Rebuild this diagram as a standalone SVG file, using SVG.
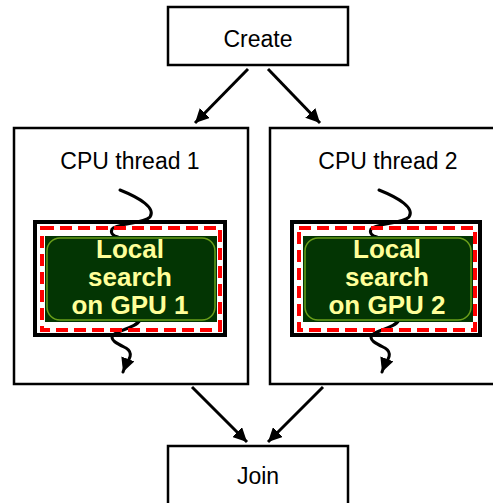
<svg xmlns="http://www.w3.org/2000/svg" width="493" height="503" viewBox="0 0 493 503">
<defs>
<style>
.box{fill:#fff;stroke:#000;stroke-width:2.5}
.lbl{font-family:"Liberation Sans",Arial,sans-serif;font-size:23px;fill:#000;text-anchor:middle}
.gpu-outer{fill:#fff;stroke:#000;stroke-width:4}
.gpu-dash{fill:none;stroke:#ff0000;stroke-width:4;stroke-dasharray:12 6}
.gpu-bg{fill:#033503}
.gpu-round{fill:#033503;stroke:#6a9e1a;stroke-width:1.5}
.gpu-txt{font-family:"Liberation Sans",Arial,sans-serif;font-size:26px;font-weight:bold;fill:#ffff99;text-anchor:middle}
.conn{fill:none;stroke:#000;stroke-width:3}
.thread{fill:none;stroke:#000;stroke-width:3;stroke-linecap:round}
</style>
<marker id="ah" markerUnits="userSpaceOnUse" markerWidth="16" markerHeight="14" refX="14" refY="7" orient="auto">
<path d="M0,0 L14,7 L0,14 z" fill="#000"/>
</marker>
</defs>

<g id="create">
<rect class="box" x="168" y="7" width="180" height="58"/>
<text class="lbl" x="258" y="47">Create</text>
</g>

<g id="thread1">
<rect class="box" x="14" y="128" width="234" height="256"/>
<text class="lbl" x="130" y="169">CPU thread 1</text>
<rect class="gpu-outer" x="35" y="222" width="190" height="113"/>
<path class="thread" d="M120,190 C140,198 156,208 150,217 C144,224 116,223 112,229 C110,234 114,236 118,237"/>
<path class="thread" d="M140,320 C136,328 118,330 113,335 C109,340 118,344 126,348 C134,353 129,360 126,364 L123,372" marker-end="url(#ah)"/>
<rect class="gpu-dash" x="42" y="228" width="178" height="102"/>
<g id="gpu1">
<rect class="gpu-bg" x="45" y="236" width="172" height="86"/>
<rect class="gpu-round" x="47" y="238" width="168" height="82" rx="13"/>
<text class="gpu-txt" x="130" y="258">Local</text>
<text class="gpu-txt" x="130" y="286">search</text>
<text class="gpu-txt" x="130" y="314">on GPU 1</text>
</g>
</g>

<g id="thread2">
<rect class="box" x="270" y="128" width="234" height="256"/>
<text class="lbl" x="388" y="169">CPU thread 2</text>
<g transform="translate(257,0)">
<rect class="gpu-outer" x="35" y="222" width="188" height="113"/>
<path class="thread" d="M122,190 C142,198 158,208 152,217 C146,224 118,223 114,229 C112,234 116,236 120,237"/>
<path class="thread" d="M142,320 C138,328 120,330 115,335 C111,340 120,344 128,348 C136,353 131,360 128,364 L125,372" marker-end="url(#ah)"/>
<rect class="gpu-dash" x="42" y="228" width="176" height="102"/>
<g id="gpu2">
<rect class="gpu-bg" x="46" y="236" width="170" height="86"/>
<rect class="gpu-round" x="48" y="238" width="166" height="82" rx="13"/>
<text class="gpu-txt" x="130" y="258">Local</text>
<text class="gpu-txt" x="130" y="286">search</text>
<text class="gpu-txt" x="130" y="314">on GPU 2</text>
</g>
</g>
</g>

<g id="join">
<rect class="box" x="168" y="446" width="180" height="70"/>
<text class="lbl" x="258" y="484">Join</text>
</g>

<g id="connectors">
<line class="conn" x1="248" y1="69" x2="195" y2="123" marker-end="url(#ah)"/>
<line class="conn" x1="268" y1="69" x2="320" y2="123" marker-end="url(#ah)"/>
<line class="conn" x1="192" y1="387" x2="247" y2="442" marker-end="url(#ah)"/>
<line class="conn" x1="323" y1="387" x2="268" y2="442" marker-end="url(#ah)"/>
</g>
</svg>
